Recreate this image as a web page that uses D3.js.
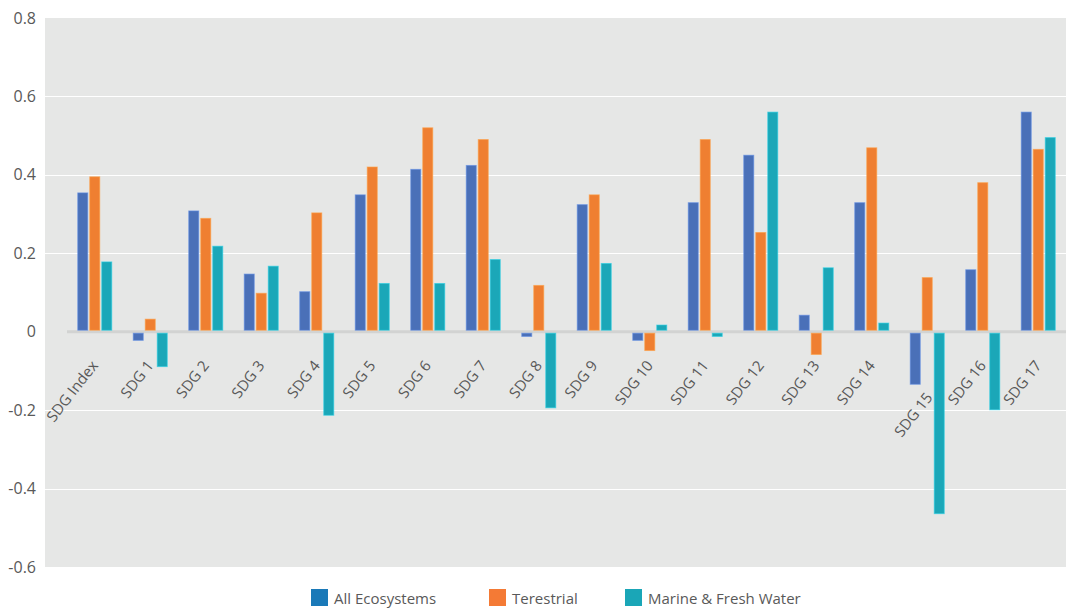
<!DOCTYPE html>
<html>
<head>
<meta charset="utf-8">
<script src="https://cdn.jsdelivr.net/npm/d3@7"></script>
<style>
  html, body { margin: 0; padding: 0; background: #ffffff; }
  svg { display: block; font-family: "Open Sans", "Noto Sans", sans-serif; }
</style>
</head>
<body>
<svg id="chart" width="1066" height="608"></svg>
<script>
const categories = ["SDG Index", "SDG 1", "SDG 2", "SDG 3", "SDG 4", "SDG 5", "SDG 6", "SDG 7", "SDG 8",
  "SDG 9", "SDG 10", "SDG 11", "SDG 12", "SDG 13", "SDG 14", "SDG 15", "SDG 16", "SDG 17"];
const seriesNames = ["All Ecosystems", "Terestrial", "Marine & Fresh Water"];
const allEcosystems = [0.354, -0.022, 0.308, 0.147, 0.102, 0.349, 0.414, 0.424, -0.012,
  0.324, -0.022, 0.329, 0.450, 0.042, 0.329, -0.134, 0.158, 0.560];
const terrestrial = [0.395, 0.032, 0.289, 0.098, 0.303, 0.420, 0.520, 0.490, 0.118,
  0.349, -0.048, 0.490, 0.253, -0.058, 0.469, 0.138, 0.380, 0.465];
const marineFresh = [0.178, -0.089, 0.218, 0.167, -0.213, 0.123, 0.123, 0.184, -0.194,
  0.174, 0.017, -0.012, 0.560, 0.163, 0.022, -0.464, -0.199, 0.495];
const yTicks = [0.8, 0.6, 0.4, 0.2, 0, -0.2, -0.4, -0.6];
const barColors = ["#4a70b8", "#ef7f31", "#1ba7b8"];
const legendColors = ["#1a79b8", "#f47a35", "#1aa6b7"];

const svg = d3.select("#chart");
const plot = { left: 45, right: 1066, top: 18, bottom: 567 };
const bandLeft = 67;

const y = d3.scaleLinear().domain([-0.6, 0.8]).range([plot.bottom, plot.top]);
const x0 = d3.scaleBand().domain(categories).range([bandLeft, plot.right]).paddingInner(0).paddingOuter(0);
const barW = 10, barGap = 2;
const x1 = d3.scaleBand().domain(seriesNames)
  .range([x0.bandwidth() / 2 - (3 * barW + 2 * barGap) / 2, x0.bandwidth() / 2 + (3 * barW + 2 * barGap) / 2])
  .paddingInner(barGap / (barW + barGap)).paddingOuter(0);

// background
svg.append("rect").attr("x", plot.left).attr("y", plot.top)
  .attr("width", plot.right - plot.left).attr("height", plot.bottom - plot.top)
  .attr("fill", "#e6e7e6");

// gridlines
svg.append("g").selectAll("line").data(yTicks.filter(d => d !== 0 && d !== 0.8 && d !== -0.6)).join("line")
  .attr("x1", plot.left).attr("x2", plot.right)
  .attr("y1", d => Math.round(y(d)) + 0.5).attr("y2", d => Math.round(y(d)) + 0.5)
  .attr("stroke", "#ffffff").attr("stroke-width", 1.2);

// y axis labels
const yAxis = d3.axisLeft(y).tickValues(yTicks).tickSize(0).tickPadding(0)
  .tickFormat(d => d === 0 ? "0" : d3.format(".1f")(d).replace("\u2212", "-"));
const gy = svg.append("g").attr("transform", `translate(${plot.left - 9},0)`).call(yAxis);
gy.select(".domain").remove();
gy.selectAll("text").attr("fill", "#595959").attr("font-size", 16)
  .attr("font-family", "'Open Sans', sans-serif");

// zero line
svg.append("line").attr("x1", bandLeft).attr("x2", plot.right)
  .attr("y1", y(0)).attr("y2", y(0))
  .attr("stroke", "#d2d3d2").attr("stroke-width", 3);

// bars
const seriesData = [allEcosystems, terrestrial, marineFresh];
const groups = svg.append("g").selectAll("g").data(categories).join("g")
  .attr("transform", d => `translate(${x0(d)},0)`);
groups.selectAll("rect")
  .data((d, i) => seriesNames.map((s, j) => ({ s, j, v: seriesData[j][i] })))
  .join("rect")
  .attr("x", d => x1(d.s))
  .attr("width", x1.bandwidth())
  .attr("y", d => d.v >= 0 ? y(d.v) : y(0) + 1.5)
  .attr("height", d => d.v >= 0 ? y(0) - 1.5 - y(d.v) : y(d.v) - y(0) - 1.5)
  .attr("fill", d => barColors[d.j])
  .attr("stroke", d => d3.color(barColors[d.j]).brighter(0.6))
  .attr("stroke-opacity", 0.6)
  .attr("stroke-width", 1);

// category labels
const xAxis = d3.axisBottom(x0).tickSize(0).tickPadding(0);
const gx = svg.append("g").attr("transform", `translate(0,${y(0)})`).call(xAxis);
gx.select(".domain").remove();
gx.selectAll("text")
  .attr("fill", "#595959").attr("font-size", 15)
  .attr("font-family", "'Open Sans', sans-serif")
  .attr("text-anchor", "end")
  .attr("dy", null).attr("y", null)
  .attr("transform", d => `translate(${d === "SDG 15" ? 6 : 4},${d === "SDG 15" ? 66 : 34}) rotate(-52)`);

// legend
const legendX = [311, 489, 625];
const lg = svg.append("g").selectAll("g").data(seriesNames).join("g")
  .attr("transform", (d, i) => `translate(${legendX[i]},589)`);
lg.append("rect").attr("width", 17).attr("height", 17).attr("fill", (d, i) => legendColors[i]);
lg.append("text").attr("x", 23).attr("y", 15).text(d => d)
  .attr("fill", "#595959").attr("font-size", 15)
  .attr("font-family", "'Open Sans', sans-serif");
</script>
</body>
</html>
